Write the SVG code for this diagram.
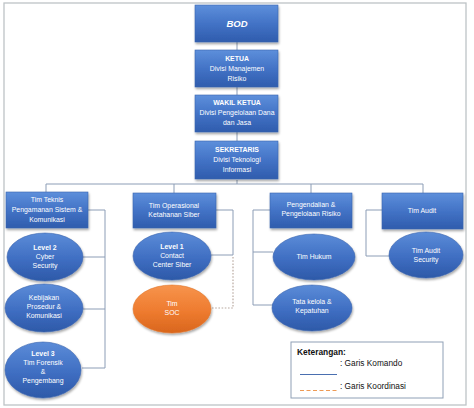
<svg xmlns="http://www.w3.org/2000/svg" width="474" height="408" viewBox="0 0 474 408">
<defs>
<linearGradient id="gb" x1="0" y1="0" x2="0" y2="1">
<stop offset="0" stop-color="#5D8FDB"/><stop offset="0.5" stop-color="#4373C6"/><stop offset="1" stop-color="#2F5CAD"/>
</linearGradient>
<linearGradient id="ge" x1="0" y1="0" x2="0" y2="1">
<stop offset="0" stop-color="#5B8CD8"/><stop offset="0.55" stop-color="#3F6EC2"/><stop offset="1" stop-color="#2D59A8"/>
</linearGradient>
<linearGradient id="go" x1="0" y1="0" x2="0" y2="1">
<stop offset="0" stop-color="#F7944C"/><stop offset="0.55" stop-color="#EE7B2F"/><stop offset="1" stop-color="#D9661D"/>
</linearGradient>
<filter id="sh" x="-20%" y="-20%" width="140%" height="150%">
<feDropShadow dx="0.8" dy="1.8" stdDeviation="1.2" flood-color="#000" flood-opacity="0.35"/>
</filter>
<style>
.box{fill:url(#gb);stroke:#3A64AE;stroke-width:0.6;filter:url(#sh)}
.ell{fill:url(#ge);stroke:#3A64AE;stroke-width:0.6;filter:url(#sh)}
.orn{fill:url(#go);stroke:#E0762A;stroke-width:0.6;filter:url(#sh)}
text{font-family:"Liberation Sans",Arial,sans-serif;font-size:6.9px;fill:#fff;text-anchor:middle}
.b{font-weight:bold}
.ln{fill:none;stroke:#8C9DB6;stroke-width:1}
.dt{fill:none;stroke:#B8A9A0;stroke-width:1.2;stroke-dasharray:1.6 1.6}
.lg{font-family:"Liberation Sans",Arial,sans-serif;fill:#111;text-anchor:start}
</style>
</defs>
<rect x="0" y="0" width="474" height="408" fill="#fff"/>
<rect x="4" y="3" width="462" height="402" fill="none" stroke="#BEC3C6" stroke-width="1.3"/>

<g id="connectors">
<path class="ln" d="M237 42V141M237 180V184M46 184H423M46 184V192M174 184V193M311 184V193M423 184V193"/>
<path class="ln" d="M88 210H105V368M83 257H105M83 309H105M82 368H105"/>
<path class="ln" d="M216 210H233V255H211"/>
<path class="dt" d="M212 308H233V257"/>
<path class="ln" d="M270 210H253V305H273M253 252H273"/>
<path class="ln" d="M382 210H366V256H390"/>
</g>

<g id="bod"><rect class="box" x="195" y="5" width="83" height="37"/><text class="b" x="237" y="27" style="font-size:9.5px;font-style:italic">BOD</text></g>
<g id="ketua"><rect class="box" x="195" y="50" width="83" height="37"/><text class="b" x="237" y="61">KETUA</text><text x="237" y="71">Divisi Manajemen</text><text x="237" y="81">Risiko</text></g>
<g id="wakil"><rect class="box" x="195" y="95" width="83" height="37"/><text class="b" x="237" y="105">WAKIL KETUA</text><text x="237" y="115">Divisi Pengelolaan Dana</text><text x="237" y="125">dan Jasa</text></g>
<g id="sekretaris"><rect class="box" x="195" y="141" width="83" height="38"/><text class="b" x="237" y="152">SEKRETARIS</text><text x="237" y="162">Divisi Teknologi</text><text x="237" y="172">Informasi</text></g>

<g id="tim-teknis"><rect class="box" x="6" y="192" width="82" height="36"/><text x="47" y="202">Tim Teknis</text><text x="47" y="212">Pengamanan Sistem &amp;</text><text x="47" y="222">Komunikasi</text></g>
<g id="tim-operasional"><rect class="box" x="133" y="193" width="83" height="35"/><text x="174" y="208">Tim Operasional</text><text x="174" y="217">Ketahanan Siber</text></g>
<g id="pengendalian"><rect class="box" x="270" y="193" width="82" height="35"/><text x="311" y="207">Pengendalian &amp;</text><text x="311" y="216">Pengelolaan Risiko</text></g>
<g id="tim-audit"><rect class="box" x="382" y="193" width="81" height="36"/><text x="422" y="213">Tim Audit</text></g>

<g id="level2"><ellipse class="ell" cx="45" cy="257" rx="38" ry="24"/><text class="b" x="45" y="250">Level 2</text><text x="45" y="259">Cyber</text><text x="45" y="268">Security</text></g>
<g id="kebijakan"><ellipse class="ell" cx="44" cy="308" rx="39" ry="24"/><text x="44" y="300">Kebijakan</text><text x="44" y="309">Prosedur &amp;</text><text x="44" y="318">Komunikasi</text></g>
<g id="level3"><ellipse class="ell" cx="43" cy="370" rx="38" ry="28"/><text class="b" x="43" y="356">Level 3</text><text x="43" y="365">Tim Forensik</text><text x="43" y="374">&amp;</text><text x="43" y="383">Pengembang</text></g>

<g id="level1"><ellipse class="ell" cx="172" cy="256" rx="39" ry="24"/><text class="b" x="172" y="249">Level 1</text><text x="172" y="258">Contact</text><text x="172" y="267">Center Siber</text></g>
<g id="soc"><ellipse class="orn" cx="172" cy="309" rx="39" ry="24"/><text x="172" y="306">Tim</text><text x="172" y="315">SOC</text></g>

<g id="tim-hukum"><ellipse class="ell" cx="314" cy="257" rx="41" ry="23"/><text x="314" y="259">Tim Hukum</text></g>
<g id="tata-kelola"><ellipse class="ell" cx="312" cy="308" rx="40" ry="23"/><text x="312" y="304">Tata kelola &amp;</text><text x="312" y="313">Kepatuhan</text></g>
<g id="tim-audit-security"><ellipse class="ell" cx="426" cy="255" rx="37" ry="23"/><text x="426" y="253">Tim Audit</text><text x="426" y="262">Security</text></g>

<g id="legend">
<rect x="291" y="342" width="152" height="56" fill="#fff" stroke="#8FA0B6" stroke-width="1"/>
<text class="lg b" x="297" y="355" style="font-size:8.4px">Keterangan:</text>
<text class="lg" x="340" y="366" style="font-size:8.3px">: Garis Komando</text>
<line x1="300" y1="374.5" x2="337" y2="374.5" stroke="#4A6FB0" stroke-width="1"/>
<text class="lg" x="340" y="389" style="font-size:8.3px">: Garis Koordinasi</text>
<line x1="300" y1="390.5" x2="337" y2="390.5" stroke="#EE9A55" stroke-width="1" stroke-dasharray="4 2.5"/>
</g>
</svg>
